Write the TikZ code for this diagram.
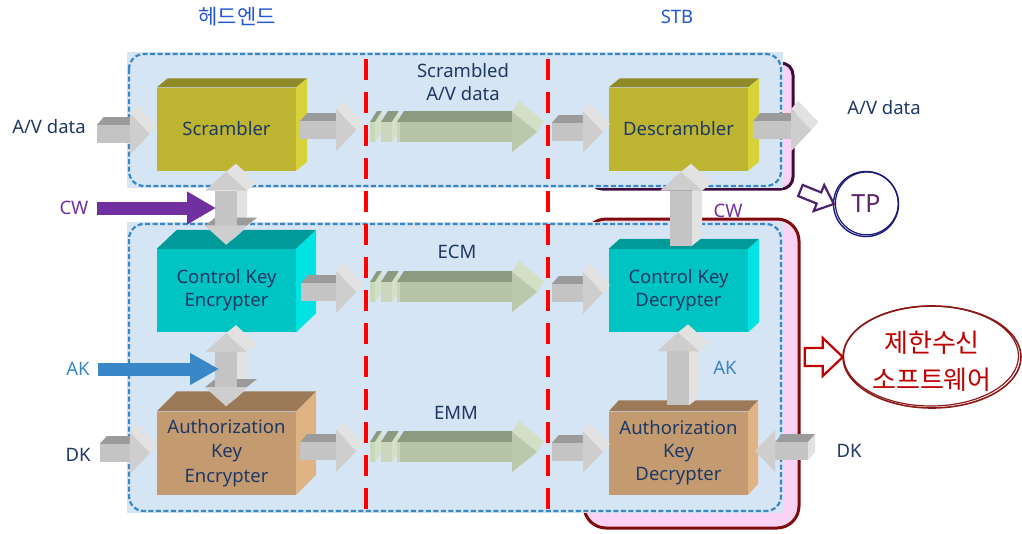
\documentclass[tikz,border=0pt]{standalone}
\usepackage{fontspec}
\setmainfont{Noto Sans}
\newfontfamily\kr{Noto Sans CJK KR}
\usetikzlibrary{calc,arrows.meta,shapes.geometric}

\definecolor{ink}{HTML}{1F3864}
\definecolor{titleblue}{HTML}{2457D6}
\definecolor{cwpurple}{HTML}{7030A0}
\definecolor{akblue}{HTML}{3A87C8}
\definecolor{zonefill}{HTML}{D6E5F3}
\definecolor{zoneedge}{HTML}{3A87C8}
\definecolor{pinkfill}{HTML}{FAD2F3}
\definecolor{plumedge}{HTML}{3E0B3C}
\definecolor{wineedge}{HTML}{7E0C0C}
\definecolor{cutred}{HTML}{FF0000}
% box faces
\definecolor{olvF}{HTML}{BDB431}
\definecolor{olvT}{HTML}{8F8A28}
\definecolor{olvS}{HTML}{D8D23A}
\definecolor{tealF}{HTML}{00C3C3}
\definecolor{tealT}{HTML}{009A9A}
\definecolor{tealS}{HTML}{00E3E3}
\definecolor{tanF}{HTML}{C49B71}
\definecolor{tanT}{HTML}{9C7957}
\definecolor{tanS}{HTML}{E0B385}
% gray block arrows
\definecolor{gTop}{HTML}{9B9B9B}
\definecolor{gFront}{HTML}{C4C4C4}
\definecolor{gHead}{HTML}{CECECE}
\definecolor{gLight}{HTML}{E2E2E2}
% green block arrows
\definecolor{grTop}{HTML}{8C9A80}
\definecolor{grFront}{HTML}{B5C4A7}
\definecolor{grHead}{HTML}{BAC8AB}
\definecolor{grLight}{HTML}{D4E0C6}
\definecolor{tpnavy}{HTML}{1A1A7A}
\definecolor{tptext}{HTML}{5E2468}
\definecolor{swred}{HTML}{C00000}
\definecolor{swedge}{HTML}{8B1A1A}

% 3D faces on top and right of a box node
\newcommand\boxfaces[5]{%
  \fill[#4] (#1.north west) -- ++(#2,-#3) -- ($(#1.north east)+(#2,-#3)$) -- (#1.north east) -- cycle;
  \fill[#5] (#1.north east) -- ++(#2,-#3) -- ($(#1.south east)+(#2,-#3)$) -- (#1.south east) -- cycle;}

\tikzset{
  lbl/.style={inner sep=0pt, align=center, text=ink, font=\fontsize{18.5}{23}\selectfont},
  blk/.style={lbl, minimum width=139pt, minimum height=83pt},
  zone/.style={draw=zoneedge, line width=2.2pt, dash pattern=on 5pt off 2.5pt, rounded corners=15pt},
  cut/.style={draw=cutred, line width=4.5pt, dash pattern=on 21pt off 12pt},
  % gray 3D arrow pointing right, front tip at the origin, #1 = length
  pics/rarr/.style={code={
    \fill[gTop] (-#1,-9) -- (-#1+7,-17) -- (-13,-17) -- (-20,-9) -- cycle;
    \fill[gLight] (-20,-21) -- (-13,-29) -- (7,-8) -- (0,0) -- cycle;
    \fill[gLight] (0,0) -- (7,-8) -- (-13,13) -- (-20,21) -- cycle;
    \fill[gFront] (-#1,-9) rectangle (-20,9);
    \fill[gHead] (-20,-21) -- (0,0) -- (-20,21) -- cycle;}},
  % gray 3D arrow pointing left, front tip at the origin, #1 = length
  pics/larr/.style={code={
    \fill[gTop] (20,-9) -- (27,-17) -- (#1+7,-17) -- (#1,-9) -- cycle;
    \fill[gLight] (#1,-9) -- (#1+7,-17) -- (#1+7,1) -- (#1,9) -- cycle;
    \fill[gLight] (0,0) -- (7,-8) -- (27,-29) -- (20,-21) -- cycle;
    \fill[gFront] (20,-9) rectangle (#1,9);
    \fill[gHead] (0,0) -- (20,-21) -- (20,21) -- cycle;}},
  % gray 3D arrow pointing up, tip at the origin, #1 = length
  pics/uarr/.style={code={
    \fill[gLight] (11,19) -- (21,11) -- (21,#1-8) -- (11,#1) -- cycle;
    \fill[gLight] (0,0) -- (10,-8) -- (31,11) -- (21,19) -- cycle;
    \fill[gFront] (-11,19) rectangle (11,#1);
    \fill[gHead] (-21,19) -- (0,0) -- (21,19) -- cycle;}},
  % gray 3D double arrow, up and down, top tip at the origin, #1 = length
  pics/udarr/.style={code={
    \fill[gLight] (11,19) -- (21,11) -- (21,#1-27) -- (11,#1-19) -- cycle;
    \fill[gLight] (0,0) -- (10,-8) -- (31,11) -- (21,19) -- cycle;
    \fill[gTop] (-21,#1-19) -- (-11,#1-27) -- (31,#1-27) -- (21,#1-19) -- cycle;
    \fill[gLight] (21,#1-19) -- (31,#1-27) -- (10,#1-8) -- (0,#1) -- cycle;
    \fill[gFront] (-11,19) rectangle (11,#1-19);
    \fill[gHead] (-21,19) -- (0,0) -- (21,19) -- cycle;
    \fill[gHead] (-21,#1-19) -- (0,#1) -- (21,#1-19) -- cycle;}},
  % green 3D broken-tail arrow pointing right, front tip at origin, #1 = length
  pics/garr/.style={code={
    \foreach \a/\b in {-#1/-#1+5, -#1+11/-#1+22}{
      \fill[grTop] (\a,-10) -- (\a+7,-21) -- (\b+7,-21) -- (\b,-10) -- cycle;
      \fill[grLight] (\b,-10) -- (\b+7,-21) -- (\b+7,-1) -- (\b,10) -- cycle;
      \fill[grLight!70!grFront] (\a,-10) rectangle (\b,10);}
    \fill[grTop] (-#1+27,-10) -- (-#1+34,-21) -- (-18,-21) -- (-25,-10) -- cycle;
    \fill[grLight] (-25,-20) -- (-18,-31) -- (7,-11) -- (0,0) -- cycle;
    \fill[grLight] (0,0) -- (7,-11) -- (-18,9) -- (-25,20) -- cycle;
    \fill[grFront] (-#1+27,-10) rectangle (-25,10);
    \fill[grLight!60!grFront] (-#1+27,-10) rectangle (-#1+30,10);
    \fill[grHead] (-25,-20) -- (0,0) -- (-25,20) -- cycle;}},
  hollow/.style={line width=2.2pt, fill=white, line join=miter},
}

\begin{document}
\begin{tikzpicture}[x=1pt,y=-1pt]
\useasboundingbox (0,0) rectangle (1022,533);
\fill[white] (0,0) rectangle (1022,533);

% pink receiver areas behind the zones
\filldraw[fill=pinkfill, draw=plumedge, line width=3pt, rounded corners=12pt]
  (590,63) rectangle (793,189);
\filldraw[fill=pinkfill, draw=wineedge, line width=3pt, rounded corners=22pt]
  (584,219) rectangle (799,528);

% light blue zones
\fill[zonefill] (127,52) rectangle (783,188);
\draw[zone] (129,54) rectangle (781,186);
\fill[zonefill] (127,222) rectangle (783,513);
\draw[zone] (129,224) rectangle (781,511);

% channel boundaries
\draw[cut] (366,59) -- (366,513);
\draw[cut] (548,59) -- (548,513);

% titles
\node[lbl, text=titleblue, font=\kr\fontsize{21}{23}\selectfont] (he) at (237,17) {헤드엔드};
\node[lbl, text=titleblue] (stb) at (677,17) {STB};

% processing blocks
\node[blk, fill=olvF] (scr) at (226.5,129) {Scrambler};
\boxfaces{scr}{11}{9}{olvT}{olvS}
\node[blk, fill=olvF] (dsc) at (678.5,129) {Descrambler};
\boxfaces{dsc}{11}{9}{olvT}{olvS}
\node[blk, fill=tealF] (cke) at (226.5,290.5) {Control Key\\Encrypter};
\boxfaces{cke}{20}{19}{tealT}{tealS}
\node[blk, fill=tealF] (ckd) at (678.5,290.5) {Control Key\\Decrypter};
\boxfaces{ckd}{11}{10}{tealT}{tealS}
\node[blk, fill=tanF, font=\fontsize{18.5}{24.5}\selectfont] (ake) at (226.5,453) {Authorization\\Key\\Encrypter};
\boxfaces{ake}{20}{20}{tanT}{tanS}
\node[blk, fill=tanF, font=\fontsize{18.5}{23}\selectfont] (akd) at (678.5,453) {Authorization\\Key\\Decrypter};
\boxfaces{akd}{10}{11}{tanT}{tanS}

% outer labels
\node[lbl] (avin) at (49,127) {A/V data};
\node[lbl, text=cwpurple] (cw) at (74,208) {CW};
\node[lbl, text=akblue] (ak) at (78,369) {AK};
\node[lbl] (dkin) at (78,455) {DK};
\node[lbl] (avout) at (884,108) {A/V data};
\node[lbl] (dkout) at (849,451) {DK};
\node[lbl] (scrd) at (463,82) {Scrambled\\A/V data};
\node[lbl] (ecm) at (457,252) {ECM};
\node[lbl] (emm) at (456,413) {EMM};
\node[lbl, text=cwpurple] (cw2) at (728,211) {CW};
\node[lbl, text=akblue] (ak2) at (725,368) {AK};

% gray data arrows
\pic at ($(scr.west)+(-7,5)$) {rarr=53};
\pic at ($(scr.east)+(60,1)$) {rarr=56};
\pic at ($(dsc.west)+(-6,3)$) {rarr=51};
\pic at ($(dsc.east)+(63,1)$) {rarr=58};
\pic at ($(cke.east)+(60,1.5)$) {rarr=55};
\pic at ($(ckd.west)+(-6,2.5)$) {rarr=51};
\pic at ($(ake.west)+(-7,0)$) {rarr=50};
\pic at ($(ake.east)+(60,-2)$) {rarr=56};
\pic at ($(akd.west)+(-6,-1)$) {rarr=51};
\pic at ($(akd.east)+(7,-2)$) {larr=53};

% transmitted streams
\pic at (537,132) {garr=167};
\pic at (537,292) {garr=167};
\pic at (537,452) {garr=167};

% key paths between blocks
\pic at ($(scr.south)+(-0.5,1)$) {udarr=73};
\pic at ($(cke.south)+(-0.5,1)$) {udarr=73};
\pic at ($(dsc.south)+(2.5,1)$) {uarr=74};
\pic at ($(akd.north)+(-0.5,-79)$) {uarr=73};

% key inputs
\coordinate (cwtip) at (216,208);
\coordinate (aktip) at (219,369);
\draw[cwpurple, line width=13pt, -{Triangle[length=29pt,width=31pt]}]
  ($(cw.east)+(8,0)$) -- (cwtip);
\draw[akblue, line width=13pt, -{Triangle[length=29pt,width=30pt]}]
  ($(ak.east)+(8,0)$) -- (aktip);

% TP
\node[circle, minimum size=64pt, inner sep=0pt, text=tptext,
      font=\fontsize{25}{27}\selectfont] (tp) at (866,204) {TP};
\draw[tpnavy, line width=1.4pt] (866,204) circle (32.5);
\draw[tpnavy, line width=1.2pt] (866.8,203.4) circle (31.4);
\draw[hollow, draw=cwpurple!70!black, rotate around={-22:(tp.west)}]
  (tp.west) -- ++(-16,-14) -- ++(0,8) -- ++(-20,0) -- ++(0,12) -- ++(20,0) -- ++(0,8) -- cycle;

% conditional access software
\node[ellipse, minimum width=178pt, minimum height=102pt, inner sep=0pt] (sw) at (932,357) {};
\draw[swedge, line width=1.6pt] (932,357) ellipse (89 and 51);
\draw[swedge, line width=1.2pt] (931,356) ellipse (87.5 and 50);
\node[lbl, text=swred, font=\kr\fontsize{26}{37}\selectfont] (swt) at (932,361) {제한수신\\소프트웨어};
\draw[hollow, draw=swred] (sw.west) -- ++(-20,-19) -- ++(0,10) -- ++(-18,0) -- ++(0,18)
  -- ++(18,0) -- ++(0,10) -- cycle;
\end{tikzpicture}
\end{document}
